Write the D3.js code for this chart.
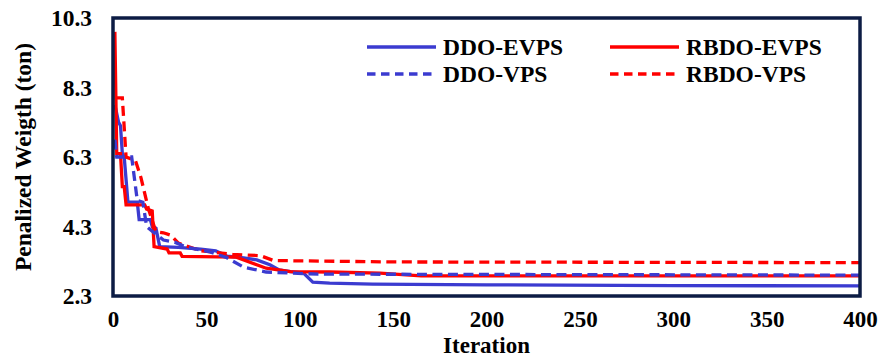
<!DOCTYPE html>
<html>
<head>
<meta charset="utf-8">
<script src="https://cdn.jsdelivr.net/npm/d3@7"></script>
<style>
  body { margin: 0; background: #fff; }
  text { font-family: "Liberation Serif", "Times New Roman", serif; font-weight: bold; fill: #000; }
</style>
</head>
<body>
<main></main>
<script>
// convergence histories (iteration, penalized weight in ton)
const ddoEvpsIter = [1, 3, 4, 5, 6, 8, 13, 14, 20, 21, 23, 25, 35, 47, 55, 61, 70, 77, 84, 89, 95, 102, 107, 116, 139, 200, 300, 400]
const ddoEvpsVal  = [7.8, 7.3, 7.2, 6.4, 6.3, 5.0, 5.0, 4.5, 4.5, 4.3, 4.25, 3.72, 3.7, 3.65, 3.6, 3.45, 3.4, 3.34, 3.2, 3.05, 3.0, 2.96, 2.7, 2.67, 2.64, 2.62, 2.6, 2.59]

const ddoVpsIter = [1, 2, 10, 13, 16, 18, 22, 27, 33, 39, 52, 61, 70, 82, 95, 110, 400]
const ddoVpsVal  = [6.8, 6.3, 6.3, 5.05, 5.0, 4.3, 4.12, 3.91, 3.85, 3.71, 3.57, 3.4, 3.13, 2.99, 2.96, 2.93, 2.9]

const rbdoEvpsIter = [1, 2, 4, 5, 6, 7, 17, 18, 21, 22, 29, 30, 36, 37, 66, 82, 95, 116, 143, 165, 400]
const rbdoEvpsVal  = [9.9, 6.4, 6.4, 5.45, 5.45, 4.92, 4.92, 4.8, 4.75, 3.72, 3.65, 3.54, 3.54, 3.44, 3.42, 3.1, 3.0, 2.99, 2.96, 2.88, 2.88]

const rbdoVpsIter = [1, 5, 7, 12, 15, 19, 23, 27, 31, 35, 47, 64, 79, 86, 150, 400]
const rbdoVpsVal  = [8.0, 8.0, 6.3, 6.2, 5.7, 4.8, 4.15, 4.12, 4.05, 3.82, 3.6, 3.5, 3.46, 3.32, 3.28, 3.26]

const xTicks = [0, 50, 100, 150, 200, 250, 300, 350, 400]
const yTicks = [2.3, 4.3, 6.3, 8.3, 10.3]

const width = 880
const height = 358
const margin = { top: 18, right: 20, bottom: 62, left: 113 }

const blue = "#3b3bd0"
const red = "#ff0000"

const series = [
  { name: "DDO-EVPS", iter: ddoEvpsIter, val: ddoEvpsVal, color: blue, dash: null },
  { name: "DDO-VPS", iter: ddoVpsIter, val: ddoVpsVal, color: blue, dash: "10,5.5" },
  { name: "RBDO-EVPS", iter: rbdoEvpsIter, val: rbdoEvpsVal, color: red, dash: null },
  { name: "RBDO-VPS", iter: rbdoVpsIter, val: rbdoVpsVal, color: red, dash: "10,5.5" }
]

let svg = d3.select("main")
  .append("svg")
  .attr("width", width)
  .attr("height", height)
  .attr("viewBox", [0, 0, width, height])

let x = d3.scaleLinear().domain([0, 400]).range([margin.left, width - margin.right])
let y = d3.scaleLinear().domain([2.3, 10.3]).range([height - margin.bottom, margin.top])

let line = d3.line()
  .x(d => x(d[0]))
  .y(d => y(d[1]))

// lines (draw order: blue solid, red solid, red dashed, blue dashed)
let order = [0, 2, 3, 1]
order.forEach(i => {
  let s = series[i]
  svg.append("path")
    .datum(s.iter.map((it, k) => [it, s.val[k]]))
    .attr("fill", "none")
    .attr("stroke", s.color)
    .attr("stroke-width", 3.3)
    .attr("stroke-dasharray", s.dash)
    .attr("d", line)
})

// plot frame
svg.append("rect")
  .attr("x", x(0))
  .attr("y", y(10.3))
  .attr("width", x(400) - x(0))
  .attr("height", y(2.3) - y(10.3))
  .attr("fill", "none")
  .attr("stroke", "#0c1c44")
  .attr("stroke-width", 3.5)

// axes, text only
let xAxis = svg.append("g")
  .attr("transform", `translate(0,${y(2.3)})`)
  .call(d3.axisBottom(x).tickValues(xTicks).tickSize(0).tickPadding(15))
xAxis.select(".domain").remove()
xAxis.selectAll("text").attr("font-size", 23)

let yAxis = svg.append("g")
  .attr("transform", `translate(${x(0)},0)`)
  .call(d3.axisLeft(y).tickValues(yTicks).tickFormat(d3.format(".1f")).tickSize(0).tickPadding(21))
yAxis.select(".domain").remove()
yAxis.selectAll("text").attr("font-size", 23.5)

svg.append("text")
  .attr("x", (x(0) + x(400)) / 2)
  .attr("y", 353)
  .attr("text-anchor", "middle")
  .attr("font-size", 23)
  .text("Iteration")

svg.append("text")
  .attr("transform", `translate(31,${(y(2.3) + y(10.3)) / 2}) rotate(-90)`)
  .attr("text-anchor", "middle")
  .attr("font-size", 23.5)
  .text("Penalized Weigth (ton)")

// legend, two columns
let legendPos = [[367, 47], [367, 74], [610, 47], [610, 74]]
series.forEach((s, i) => {
  let [lx, ly] = legendPos[i]
  svg.append("line")
    .attr("x1", lx).attr("x2", lx + 69)
    .attr("y1", ly).attr("y2", ly)
    .attr("stroke", s.color)
    .attr("stroke-width", 3.3)
    .attr("stroke-dasharray", s.dash ? "8.5,5.5" : null)
  svg.append("text")
    .attr("x", lx + 76)
    .attr("y", ly + 8)
    .attr("font-size", 23.5)
    .text(s.name)
})
</script>
</body>
</html>
